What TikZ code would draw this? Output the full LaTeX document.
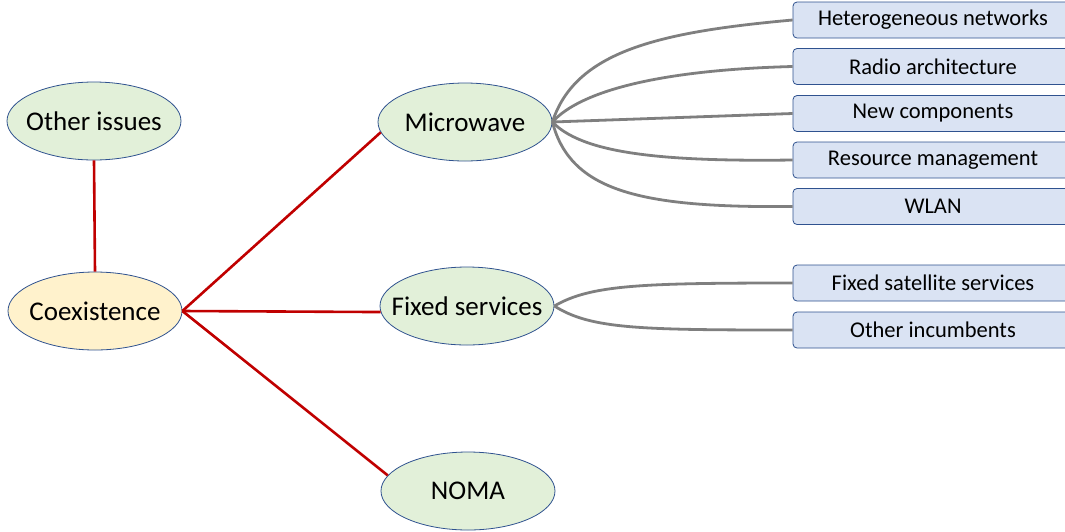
\documentclass[tikz,border=0pt]{standalone}
\usepackage{fontspec}
\setmainfont{Carlito}
\usetikzlibrary{shapes.geometric,calc}
\definecolor{ellfill}{HTML}{E2F0D9}
\definecolor{coefill}{HTML}{FFF2CC}
\definecolor{boxfill}{HTML}{DAE3F3}
\definecolor{bordblue}{HTML}{2F528F}
\definecolor{redline}{HTML}{C00000}
\definecolor{grayline}{HTML}{7F7F7F}
\tikzset{
  topic/.style={ellipse, draw=bordblue, line width=0.8pt, fill=ellfill, minimum width=174pt, minimum height=78pt, inner sep=0pt},
  topictext/.style={font=\fontsize{27}{31}\selectfont, inner sep=0pt},
  leaf/.style={rectangle, rounded corners=4pt, draw=bordblue, line width=0.8pt, fill=boxfill, minimum width=280pt, minimum height=36pt, inner sep=0pt, font=\fontsize{22.5}{26}\selectfont},
  redlink/.style={draw=redline, line width=2.6pt},
  graylink/.style={draw=grayline, line width=2.8pt},
}
\begin{document}
\begin{tikzpicture}[x=1pt,y=-1pt]
\useasboundingbox (0,0) rectangle (1065,531);
\clip (0,0) rectangle (1065,531);
\node[topic, label={[topictext]center:Other issues}] (oi) at (94,121) {};
\node[topic, fill=coefill, label={[topictext]center:Coexistence}] (co) at (95,311) {};
\node[topic, label={[topictext]center:Microwave}] (mw) at (465,122) {};
\node[topic, label={[topictext]center:Fixed services}] (fs) at (467,306) {};
\node[topic, label={[topictext]center:NOMA}] (noma) at (468,491) {};
\node[leaf] (b1) at (933,20) {Heterogeneous networks};
\node[leaf] (b2) at (933,66.5) {Radio architecture};
\node[leaf] (b3) at (933,113.5) {New components};
\node[leaf] (b4) at (933,160) {Resource management};
\node[leaf] (b5) at (933,206.5) {WLAN};
\node[leaf] (b6) at (933,283) {Fixed satellite services};
\node[leaf] (b7) at (933,330) {Other incumbents};
\draw[redlink] (oi.south) -- (co.north);
\draw[redlink] (co.east) -- (mw.187);
\draw[redlink] (co.east) -- (fs.184);
\draw[redlink] (co.east) -- (noma.169);
\draw[graylink] (mw.east) .. controls ($(mw.east)+(23,-71)$) and ($(b1.west)+(-133,12)$) .. (b1.west);
\draw[graylink] (mw.east) .. controls ($(mw.east)+(28,-31)$) and ($(b2.west)+(-133,3.5)$) .. (b2.west);
\draw[graylink] (mw.east) -- (b3.west);
\draw[graylink] (mw.east) .. controls ($(mw.east)+(28,29)$) and ($(b4.west)+(-143,2)$) .. (b4.west);
\draw[graylink] (mw.east) .. controls ($(mw.east)+(18,69)$) and ($(b5.west)+(-153,1.5)$) .. (b5.west);
\draw[graylink] (fs.east) .. controls ($(fs.east)+(36,-21)$) and ($(b6.west)+(-153,0)$) .. (b6.west);
\draw[graylink] (fs.east) .. controls ($(fs.east)+(36,23)$) and ($(b7.west)+(-153,0)$) .. (b7.west);
\end{tikzpicture}
\end{document}
